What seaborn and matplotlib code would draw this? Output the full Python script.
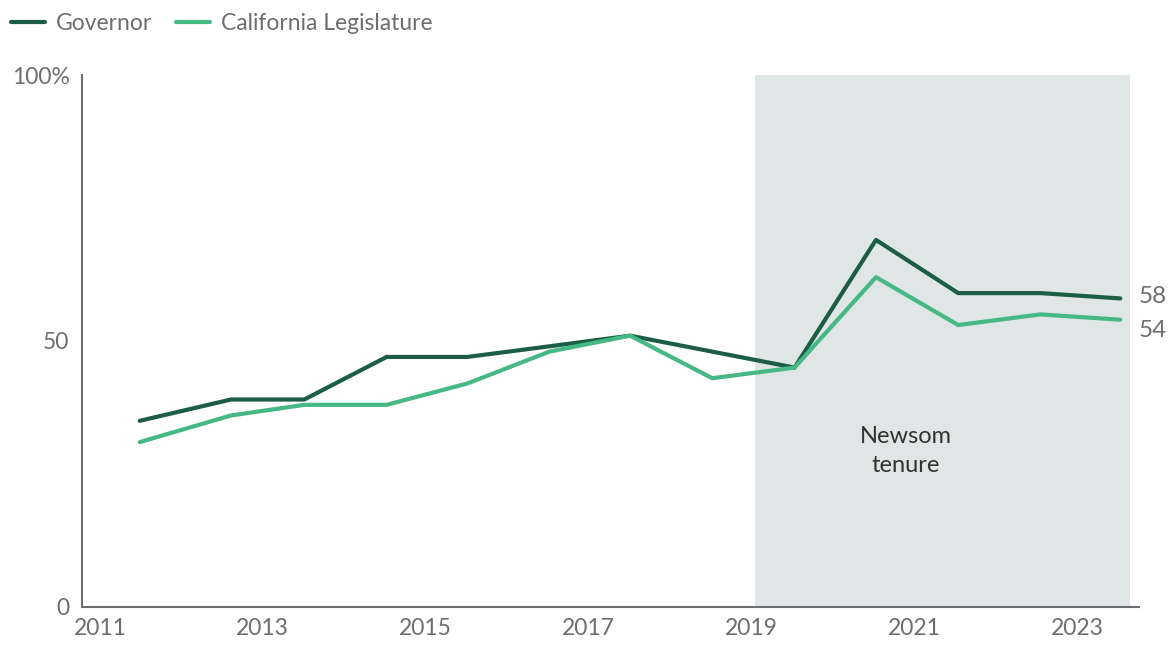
import matplotlib
matplotlib.use("Agg")
import matplotlib.pyplot as plt
import seaborn as sns
import pandas as pd
from matplotlib.lines import Line2D

# Data
survey_dates = [2011.49, 2012.61, 2013.51, 2014.52, 2015.51, 2016.52, 2017.51,
                2018.52, 2019.53, 2020.53, 2021.54, 2022.55, 2023.53]
governor = [35, 39, 39, 47, 47, 49, 51, 48, 45, 69, 59, 59, 58]
legislature = [31, 36, 38, 38, 42, 48, 51, 43, 45, 62, 53, 55, 54]
series_names = ["Governor", "California Legislature"]
x_ticks = [2011, 2013, 2015, 2017, 2019, 2021, 2023]
y_ticks = [0, 50, 100]
y_tick_labels = ["0", "50", "100%"]
tenure_span = [2019.05, 2023.65]
tenure_label = "Newsom\ntenure"

df = pd.DataFrame({
    "date": survey_dates * 2,
    "value": governor + legislature,
    "series": [series_names[0]] * len(governor) + [series_names[1]] * len(legislature),
})

sns.set_theme(style="white")
plt.rcParams["font.family"] = ["Lato", "DejaVu Sans"]

gray = "#6d6e71"
colors = {"Governor": "#1b5e45", "California Legislature": "#45b886"}

fig = plt.figure(figsize=(11.7, 6.46), dpi=100)
ax = fig.add_axes([0.0701, 0.0604, 0.9735 - 0.0701, 0.8839 - 0.0604])

ax.axvspan(tenure_span[0], tenure_span[1], ymin=0, ymax=1, color="#e0e6e6", lw=0, zorder=0)

sns.lineplot(data=df, x="date", y="value", hue="series", palette=colors,
             hue_order=series_names, linewidth=3, ax=ax, legend=False, zorder=3)

ax.set_xlim(2010.78, 2023.76)
ax.set_ylim(0, 100)
ax.set_xticks(x_ticks)
ax.set_xticklabels([str(t) for t in x_ticks])
ax.set_yticks(y_ticks)
ax.set_yticklabels(y_tick_labels)
ax.set_xlabel("")
ax.set_ylabel("")
ax.tick_params(axis="both", length=0, labelsize=16.5, labelcolor=gray)
ax.tick_params(axis="x", pad=8)
ax.tick_params(axis="y", pad=9)

for s in ["top", "right"]:
    ax.spines[s].set_visible(False)
for s in ["left", "bottom"]:
    ax.spines[s].set_color(gray)
    ax.spines[s].set_linewidth(1.5)
ax.grid(False)

# end labels
ax.text(survey_dates[-1] + 0.22, governor[-1] + 0.3, str(governor[-1]), color=gray,
        fontsize=17.5, va="center", ha="left", clip_on=False)
ax.text(survey_dates[-1] + 0.22, legislature[-1] - 2.0, str(legislature[-1]), color=gray,
        fontsize=17.5, va="center", ha="left", clip_on=False)

ax.text(2020.9, 29.3, tenure_label, color="#333333", fontsize=17, ha="center", va="center",
        linespacing=1.45)

handles = [Line2D([0], [0], color=colors[n], lw=3) for n in series_names]
fig.legend(handles, series_names, loc="upper left", bbox_to_anchor=(0.009, 0.98), ncol=2,
           frameon=False, fontsize=16.5, labelcolor=gray, handlelength=1.5,
           handletextpad=0.5, columnspacing=1.0, borderaxespad=0, borderpad=0)

fig.savefig("out.png", dpi=100)
